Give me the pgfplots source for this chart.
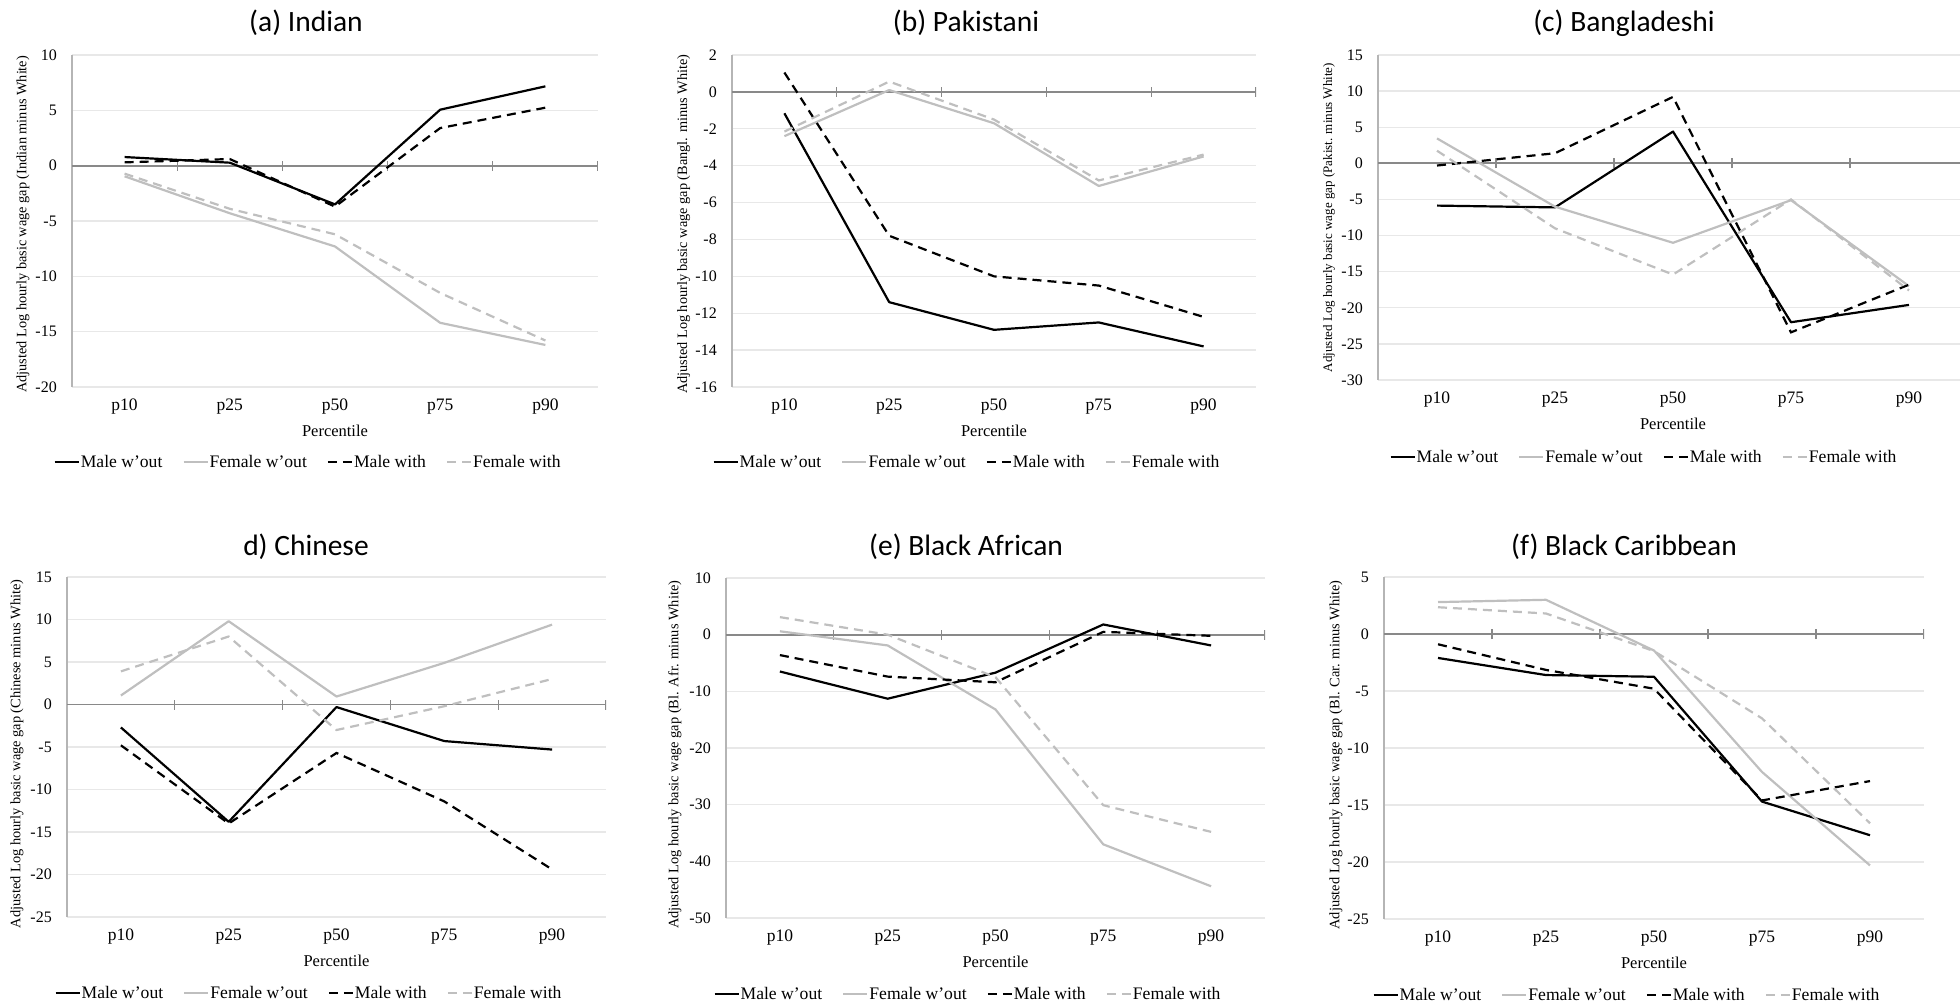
\documentclass[border=0pt]{standalone}
\usepackage{fontspec}
\setmainfont{Liberation Serif}
\newfontfamily\titlefont{Carlito}
\usepackage{pgfplots}
\pgfplotsset{compat=1.18}

\definecolor{fgray}{HTML}{BFBFBF}
\definecolor{gridc}{HTML}{E8E8E8}
\definecolor{zeroc}{HTML}{898989}
\definecolor{axc}{HTML}{B5B5B5}

\pgfplotsset{
  legend image code/.code={\draw[#1] (0pt,0pt) -- (24pt,0pt);},
  mwo/.style={black, line width=2.2pt, line join=round},
  fwo/.style={fgray, line width=2.2pt, line join=round},
  mw/.style={black, line width=2.2pt, dash pattern=on 9pt off 6pt},
  fw/.style={fgray, line width=2.2pt, dash pattern=on 9pt off 6pt},
  panel/.style={
    scale only axis,
    anchor=south west,
    xmin=-0.5, xmax=4.5,
    xtick={0,1,2,3,4},
    xticklabels={p10,p25,p50,p75,p90},
    axis x line*=bottom, axis y line*=left,
    x axis line style={draw=none},
    y axis line style={draw=axc, line width=1.5pt},
    major tick length=0pt,
    no markers,
    ymajorgrids,
    grid style={draw=gridc, line width=1.3pt},
    /pgf/number format/assume math mode=true,
    xticklabel style={font=\fontsize{17.5}{20}\selectfont, anchor=north, inner sep=0pt, yshift=-12pt},
    yticklabel style={font=\fontsize{16}{18}\selectfont, anchor=east, inner sep=0pt, xshift=-15pt},
    xlabel={Percentile},
    every axis x label/.style={at={(axis description cs:0.5,0)}, anchor=center, yshift=-44pt, font=\fontsize{16.5}{18}\selectfont},
    every axis y label/.style={rotate=90, anchor=center},
    legend columns=4,
    legend style={draw=none, fill=none, anchor=center, font=\fontsize{17.6}{20}\selectfont,
      inner sep=0pt, column sep=1pt,
      /tikz/every even column/.append style={column sep=20pt},
      nodes={inner sep=0pt}},
  }
}

\newcommand{\zeroline}{%
  \draw[zeroc, line width=1.8pt] (axis cs:-0.5,0) -- (axis cs:4.5,0);
  \draw[zeroc, line width=1.2pt]
    (axis cs:0.5,0) ++(0pt,-5pt) -- ++(0pt,10pt)
    (axis cs:1.5,0) ++(0pt,-5pt) -- ++(0pt,10pt)
    (axis cs:2.5,0) ++(0pt,-5pt) -- ++(0pt,10pt)
    (axis cs:3.5,0) ++(0pt,-5pt) -- ++(0pt,10pt)
    (axis cs:4.5,0) ++(0pt,-5pt) -- ++(0pt,10pt);
}

\begin{document}
\begin{tikzpicture}
\useasboundingbox (0pt,0pt) rectangle (1960pt,-1005pt);
\clip (0pt,0pt) rectangle (1960pt,-1005pt);

% titles
\node[font=\titlefont\fontsize{29.5}{31}\selectfont] at (306pt,-23pt) {(a) Indian};
\node[font=\titlefont\fontsize{29.5}{31}\selectfont] at (966pt,-23pt) {(b) Pakistani};
\node[font=\titlefont\fontsize{29.5}{31}\selectfont] at (1624pt,-23pt) {(c) Bangladeshi};
\node[font=\titlefont\fontsize{29.5}{31}\selectfont] at (306pt,-547pt) {d) Chinese};
\node[font=\titlefont\fontsize{29.5}{31}\selectfont] at (966pt,-547pt) {(e) Black African};
\node[font=\titlefont\fontsize{29.5}{31}\selectfont] at (1624pt,-547pt) {(f) Black Caribbean};

% (a) Indian
\begin{axis}[panel, at={(72pt,-387pt)}, width=526pt, height=332pt,
  ymin=-20, ymax=10, ytick={-20,-15,...,10},
  ylabel={Adjusted Log hourly basic wage gap (Indian minus White)},
  ylabel style={at={(axis description cs:-0.093,0.49)}, font=\fontsize{14.3}{16}\selectfont},
  legend style={at={(axis description cs:0.447,-0.2259)}}]
\zeroline
\addplot[mwo] coordinates {(0,0.78) (1,0.27) (2,-3.5) (3,5.06) (4,7.17)};
\addlegendentry{Male w'out}
\addplot[fwo] coordinates {(0,-0.96) (1,-4.3) (2,-7.3) (3,-14.2) (4,-16.2)};
\addlegendentry{Female w'out}
\addplot[mw] coordinates {(0,0.3) (1,0.6) (2,-3.7) (3,3.4) (4,5.24)};
\addlegendentry{Male with}
\addplot[fw] coordinates {(0,-0.72) (1,-3.9) (2,-6.2) (3,-11.5) (4,-15.8)};
\addlegendentry{Female with}
\end{axis}

% (b) Pakistani
\begin{axis}[panel, at={(732pt,-387pt)}, width=524pt, height=332pt,
  ymin=-16, ymax=2, ytick={-16,-14,...,2},
  ylabel={Adjusted Log hourly basic wage gap (Bangl. minus White)},
  ylabel style={at={(axis description cs:-0.092,0.49)}, font=\fontsize{14.3}{16}\selectfont},
  legend style={at={(axis description cs:0.4466,-0.2259)}}]
\zeroline
\addplot[mwo] coordinates {(0,-1.16) (1,-11.4) (2,-12.9) (3,-12.5) (4,-13.8)};
\addlegendentry{Male w'out}
\addplot[fwo] coordinates {(0,-2.4) (1,0.1) (2,-1.7) (3,-5.1) (4,-3.5)};
\addlegendentry{Female w'out}
\addplot[mw] coordinates {(0,1.05) (1,-7.8) (2,-10.0) (3,-10.5) (4,-12.2)};
\addlegendentry{Male with}
\addplot[fw] coordinates {(0,-2.15) (1,0.56) (2,-1.5) (3,-4.8) (4,-3.4)};
\addlegendentry{Female with}
\end{axis}

% (c) Bangladeshi
\begin{axis}[panel, at={(1378pt,-380pt)}, width=590pt, height=325pt,
  ymin=-30, ymax=15, ytick={-30,-25,...,15},
  ylabel={Adjusted Log hourly basic wage gap (Pakist. minus White)},
  ylabel style={at={(axis description cs:-0.083,0.5)}, font=\fontsize{13}{15}\selectfont},
  legend style={at={(axis description cs:0.449,-0.237)}}]
\zeroline
\addplot[mwo] coordinates {(0,-5.85) (1,-6.1) (2,4.4) (3,-22.0) (4,-19.6)};
\addlegendentry{Male w'out}
\addplot[fwo] coordinates {(0,3.45) (1,-6.0) (2,-11.0) (3,-5.1) (4,-17.0)};
\addlegendentry{Female w'out}
\addplot[mw] coordinates {(0,-0.3) (1,1.4) (2,9.2) (3,-23.4) (4,-16.8)};
\addlegendentry{Male with}
\addplot[fw] coordinates {(0,1.75) (1,-9.0) (2,-15.4) (3,-5.0) (4,-17.6)};
\addlegendentry{Female with}
\end{axis}

% (d) Chinese
\begin{axis}[panel, at={(67pt,-917pt)}, width=539pt, height=340pt,
  ymin=-25, ymax=15, ytick={-25,-20,...,15},
  ylabel={Adjusted Log hourly basic wage gap (Chinese minus White)},
  ylabel style={at={(axis description cs:-0.093,0.48)}, font=\fontsize{14.4}{16}\selectfont},
  legend style={at={(axis description cs:0.447,-0.2235)}}]
\zeroline
\addplot[mwo] coordinates {(0,-2.7) (1,-13.8) (2,-0.3) (3,-4.3) (4,-5.3)};
\addlegendentry{Male w'out}
\addplot[fwo] coordinates {(0,1.06) (1,9.8) (2,0.94) (3,4.9) (4,9.4)};
\addlegendentry{Female w'out}
\addplot[mw] coordinates {(0,-4.8) (1,-14.0) (2,-5.7) (3,-11.4) (4,-19.4)};
\addlegendentry{Male with}
\addplot[fw] coordinates {(0,3.9) (1,8.0) (2,-3.0) (3,-0.2) (4,3.0)};
\addlegendentry{Female with}
\end{axis}

% (e) Black African
\begin{axis}[panel, at={(726pt,-918pt)}, width=539pt, height=340pt,
  ymin=-50, ymax=10, ytick={-50,-40,...,10},
  ylabel={Adjusted Log hourly basic wage gap (Bl. Afr. minus White)},
  ylabel style={at={(axis description cs:-0.095,0.48)}, font=\fontsize{14.4}{16}\selectfont},
  legend style={at={(axis description cs:0.447,-0.2235)}}]
\zeroline
\addplot[mwo] coordinates {(0,-6.5) (1,-11.3) (2,-6.7) (3,1.8) (4,-1.9)};
\addlegendentry{Male w'out}
\addplot[fwo] coordinates {(0,0.6) (1,-1.9) (2,-13.2) (3,-37.0) (4,-44.4)};
\addlegendentry{Female w'out}
\addplot[mw] coordinates {(0,-3.6) (1,-7.4) (2,-8.4) (3,0.5) (4,-0.2)};
\addlegendentry{Male with}
\addplot[fw] coordinates {(0,3.1) (1,0.0) (2,-7.5) (3,-30.1) (4,-34.8)};
\addlegendentry{Female with}
\end{axis}

% (f) Black Caribbean
\begin{axis}[panel, at={(1384pt,-919pt)}, width=540pt, height=342pt,
  ymin=-25, ymax=5, ytick={-25,-20,...,5},
  ylabel={Adjusted Log hourly basic wage gap (Bl. Car. minus White)},
  ylabel style={at={(axis description cs:-0.089,0.48)}, font=\fontsize{14.4}{16}\selectfont},
  legend style={at={(axis description cs:0.448,-0.222)}}]
\zeroline
\addplot[mwo] coordinates {(0,-2.1) (1,-3.6) (2,-3.75) (3,-14.7) (4,-17.65)};
\addlegendentry{Male w'out}
\addplot[fwo] coordinates {(0,2.8) (1,3.0) (2,-1.45) (3,-12.1) (4,-20.3)};
\addlegendentry{Female w'out}
\addplot[mw] coordinates {(0,-0.9) (1,-3.15) (2,-4.8) (3,-14.6) (4,-12.9)};
\addlegendentry{Male with}
\addplot[fw] coordinates {(0,2.35) (1,1.8) (2,-1.5) (3,-7.4) (4,-16.6)};
\addlegendentry{Female with}
\end{axis}
\end{tikzpicture}
\end{document}
